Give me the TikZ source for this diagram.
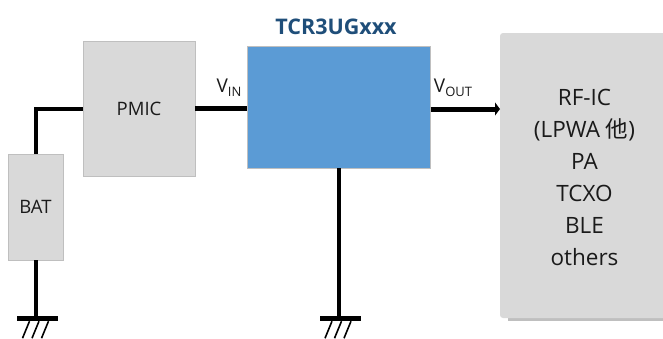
\documentclass[tikz,border=0pt]{standalone}
\usepackage{fontspec}
\setmainfont{Open Sans}
\newfontfamily\cjkfont{Noto Sans CJK JP}
\usetikzlibrary{arrows.meta}
\definecolor{boxgray}{HTML}{D9D9D9}
\definecolor{edgegray}{HTML}{BFBFBF}
\definecolor{mainblue}{HTML}{5B9BD5}
\definecolor{titleblue}{HTML}{1F4E79}
\definecolor{txt}{HTML}{1A1A1A}
\tikzset{
  block/.style={fill=boxgray, draw=edgegray, line width=0.6pt, minimum width=#1, inner sep=0pt, text=txt, font=\fontsize{18.5}{22}\selectfont, align=center},
  wire/.style={line width=#1, black},
  bar/.style={fill=black, minimum width=41pt, minimum height=5pt, inner sep=0pt, draw=none},
  hatch/.style={line width=1.6pt, black},
  lab/.style={inner sep=0pt, text=txt, font=\fontsize{19}{20}\selectfont},
}
\newcommand{\sub}[1]{\raisebox{-4pt}{\fontsize{13}{13}\selectfont #1}}
\begin{document}
\begin{tikzpicture}[x=1pt,y=-1pt]
\useasboundingbox (0,0) rectangle (663,338);
\fill[edgegray] (508,306) rectangle (663,320.5);
\fill[white] (500,318) rectangle (508,322);
\node[block=55pt, minimum height=106pt] (bat) at (35.5,207) {\raisebox{-2pt}{BAT}};
\node[block=112pt, minimum height=135pt] (pmic) at (139,108.5) {\raisebox{-1.5pt}{PMIC}};
\node[fill=mainblue, draw=edgegray, line width=0.4pt, minimum width=183pt, minimum height=122pt, inner sep=0pt] (main) at (339,107) {};
\node[fill=boxgray, rounded corners=3pt, minimum width=170pt, minimum height=285pt, inner sep=0pt] (rf) at (585,175.5) {};
\fill[boxgray] (600,33) rectangle (663,318);
\node[text=txt, font=\fontsize{22.5}{32}\selectfont, align=center, inner sep=0pt] (rflabel) at (584.5,177) {RF-IC\\(LPWA {\cjkfont 他})\\PA\\TCXO\\BLE\\others};
\node[text=titleblue, font=\bfseries\fontsize{21.5}{24}\selectfont, inner sep=0pt] (title) at (336,26.5) {TCR3UGxxx};
\node[lab] (vin) at (229,88) {V\sub{IN}};
\node[lab] (vout) at (453,88) {V\sub{OUT}};
\node[bar] (g1) at (37.5,318.5) {};
\node[bar] (g2) at (340,318.5) {};
\coordinate (tip) at (500,109);
\coordinate (vstart) at (main.east |- tip);
\draw[wire=4pt] (bat.north) |- (pmic.west);
\draw[wire=4.5pt] (pmic.east) -- (pmic.east -| main.west);
\draw[wire=5pt, -{Triangle[length=5pt,width=13pt]}] (vstart) -- (tip);
\draw[wire=3.5pt] (main.south) -- (main.south |- g2.north);
\draw[wire=4pt] (bat.south) -- (bat.south |- g1.north);
\foreach \g in {g1,g2}{
  \foreach \d in {-9.5,0,9.5}{
    \draw[hatch] ([xshift=\d pt+1.5pt]\g.south) -- ++(-7,17);
  }
}
\end{tikzpicture}
\end{document}
